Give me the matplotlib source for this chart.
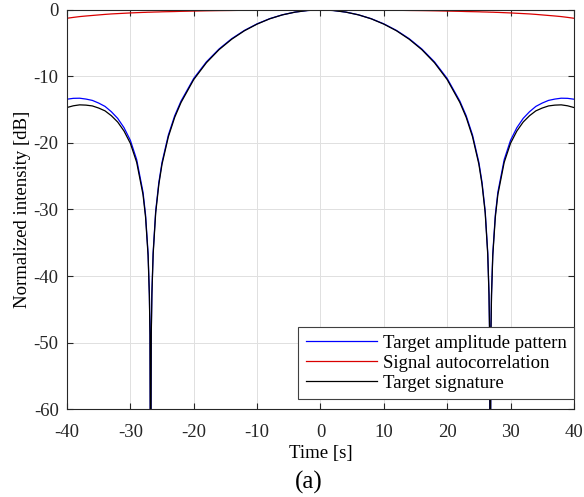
"""Target amplitude pattern, signal autocorrelation and target signature vs time."""

import matplotlib
matplotlib.use("Agg")
import matplotlib.pyplot as plt
import numpy as np

# ---------------------------------------------------------------------------
# Data (t >= 0 half; curves are symmetric)
# ---------------------------------------------------------------------------

t_half = [0, 2, 4, 6, 8, 10, 12, 14, 16, 18, 20, 22, 23, 24, 25, 25.5, 26, 26.4,
          26.6, 26.7, 26.8, 26.9, 27, 27.2, 27.6, 28, 29, 30, 31, 32, 33, 34, 35,
          36, 37, 38, 39, 40]

pattern_db = [0, -0.08, -0.32, -0.73, -1.31, -2.09, -3.08, -4.32, -5.87, -7.81,
              -10.3, -13.7, -15.9, -18.8, -22.9, -25.9, -30.2, -36.4, -42.5, -48.6,
              -80, -48.6, -42.6, -36.6, -30.8, -27.4, -22.5, -19.6, -17.7, -16.3,
              -15.3, -14.5, -14.0, -13.6, -13.4, -13.27, -13.29, -13.42]

autocorr_db = [0, 0, -0.01, -0.01, -0.02, -0.04, -0.05, -0.08, -0.10, -0.13, -0.17,
               -0.21, -0.24, -0.26, -0.28, -0.30, -0.31, -0.32, -0.33, -0.33, -0.33,
               -0.34, -0.34, -0.34, -0.36, -0.37, -0.41, -0.45, -0.50, -0.55, -0.60,
               -0.67, -0.75, -0.83, -0.91, -1.00, -1.12, -1.25]

signature_db = [0, -0.08, -0.33, -0.74, -1.33, -2.13, -3.13, -4.40, -5.97, -7.94,
                -10.47, -13.91, -16.14, -19.06, -23.18, -26.2, -30.51, -36.72, -42.83,
                -48.93, -80, -48.94, -42.94, -36.94, -31.16, -27.77, -22.91, -20.05,
                -18.2, -16.85, -15.9, -15.17, -14.75, -14.43, -14.31, -14.27, -14.41,
                -14.67]

labels = ["Target amplitude pattern", "Signal autocorrelation", "Target signature"]


def mirror(x, y):
    x = np.asarray(x, dtype=float)
    y = np.asarray(y, dtype=float)
    return np.concatenate([-x[:0:-1], x]), np.concatenate([y[:0:-1], y])


# ---------------------------------------------------------------------------
# Plot
# ---------------------------------------------------------------------------

plt.rcParams["font.family"] = ["Liberation Serif", "DejaVu Serif"]
plt.rcParams["axes.unicode_minus"] = False

fig = plt.figure(figsize=(5.84, 4.97), dpi=100)
ax = fig.add_axes([0.1147, 0.177, 0.868, 0.803])

ax.plot(*mirror(t_half, pattern_db), color=(0.0, 0.0, 1.0), lw=0.9, label=labels[0])
ax.plot(*mirror(t_half, autocorr_db), color=(0.85, 0.0, 0.0), lw=0.9, label=labels[1])
ax.plot(*mirror(t_half, signature_db), color="black", lw=0.9, label=labels[2])

ax.set_xlim(-40, 40)
ax.set_ylim(-60, 0)
ax.set_xticks(np.arange(-40, 41, 10))
ax.set_yticks(np.arange(-60, 1, 10))
ax.grid(True, color=(0.88, 0.88, 0.88), lw=0.7)
ax.set_axisbelow(True)
ax.tick_params(direction="in", top=True, right=True, length=4, width=0.8,
               labelsize=13.5, colors=(0.15, 0.15, 0.15))
ax.tick_params(axis="x", pad=11)
ax.tick_params(axis="y", pad=6)
for s in ax.spines.values():
    s.set_color((0.15, 0.15, 0.15))
    s.set_linewidth(0.8)

ax.set_xlabel("Time [s]", fontsize=13.5, labelpad=3)
ax.set_ylabel("Normalized intensity [dB]", fontsize=13.5, labelpad=2)

leg = ax.legend(loc="lower right", bbox_to_anchor=(1.0, 0.025), borderaxespad=0,
                fancybox=False, framealpha=1, edgecolor=(0.25, 0.25, 0.25),
                fontsize=13.5, handlelength=3.8, handletextpad=0.3,
                labelspacing=0.15, borderpad=0.4)
leg.get_frame().set_linewidth(0.8)

fig.text(0.529, 0.03, "(a)", fontsize=18, ha="center", va="center")

fig.savefig("out.png", dpi=100)
plt.close(fig)
